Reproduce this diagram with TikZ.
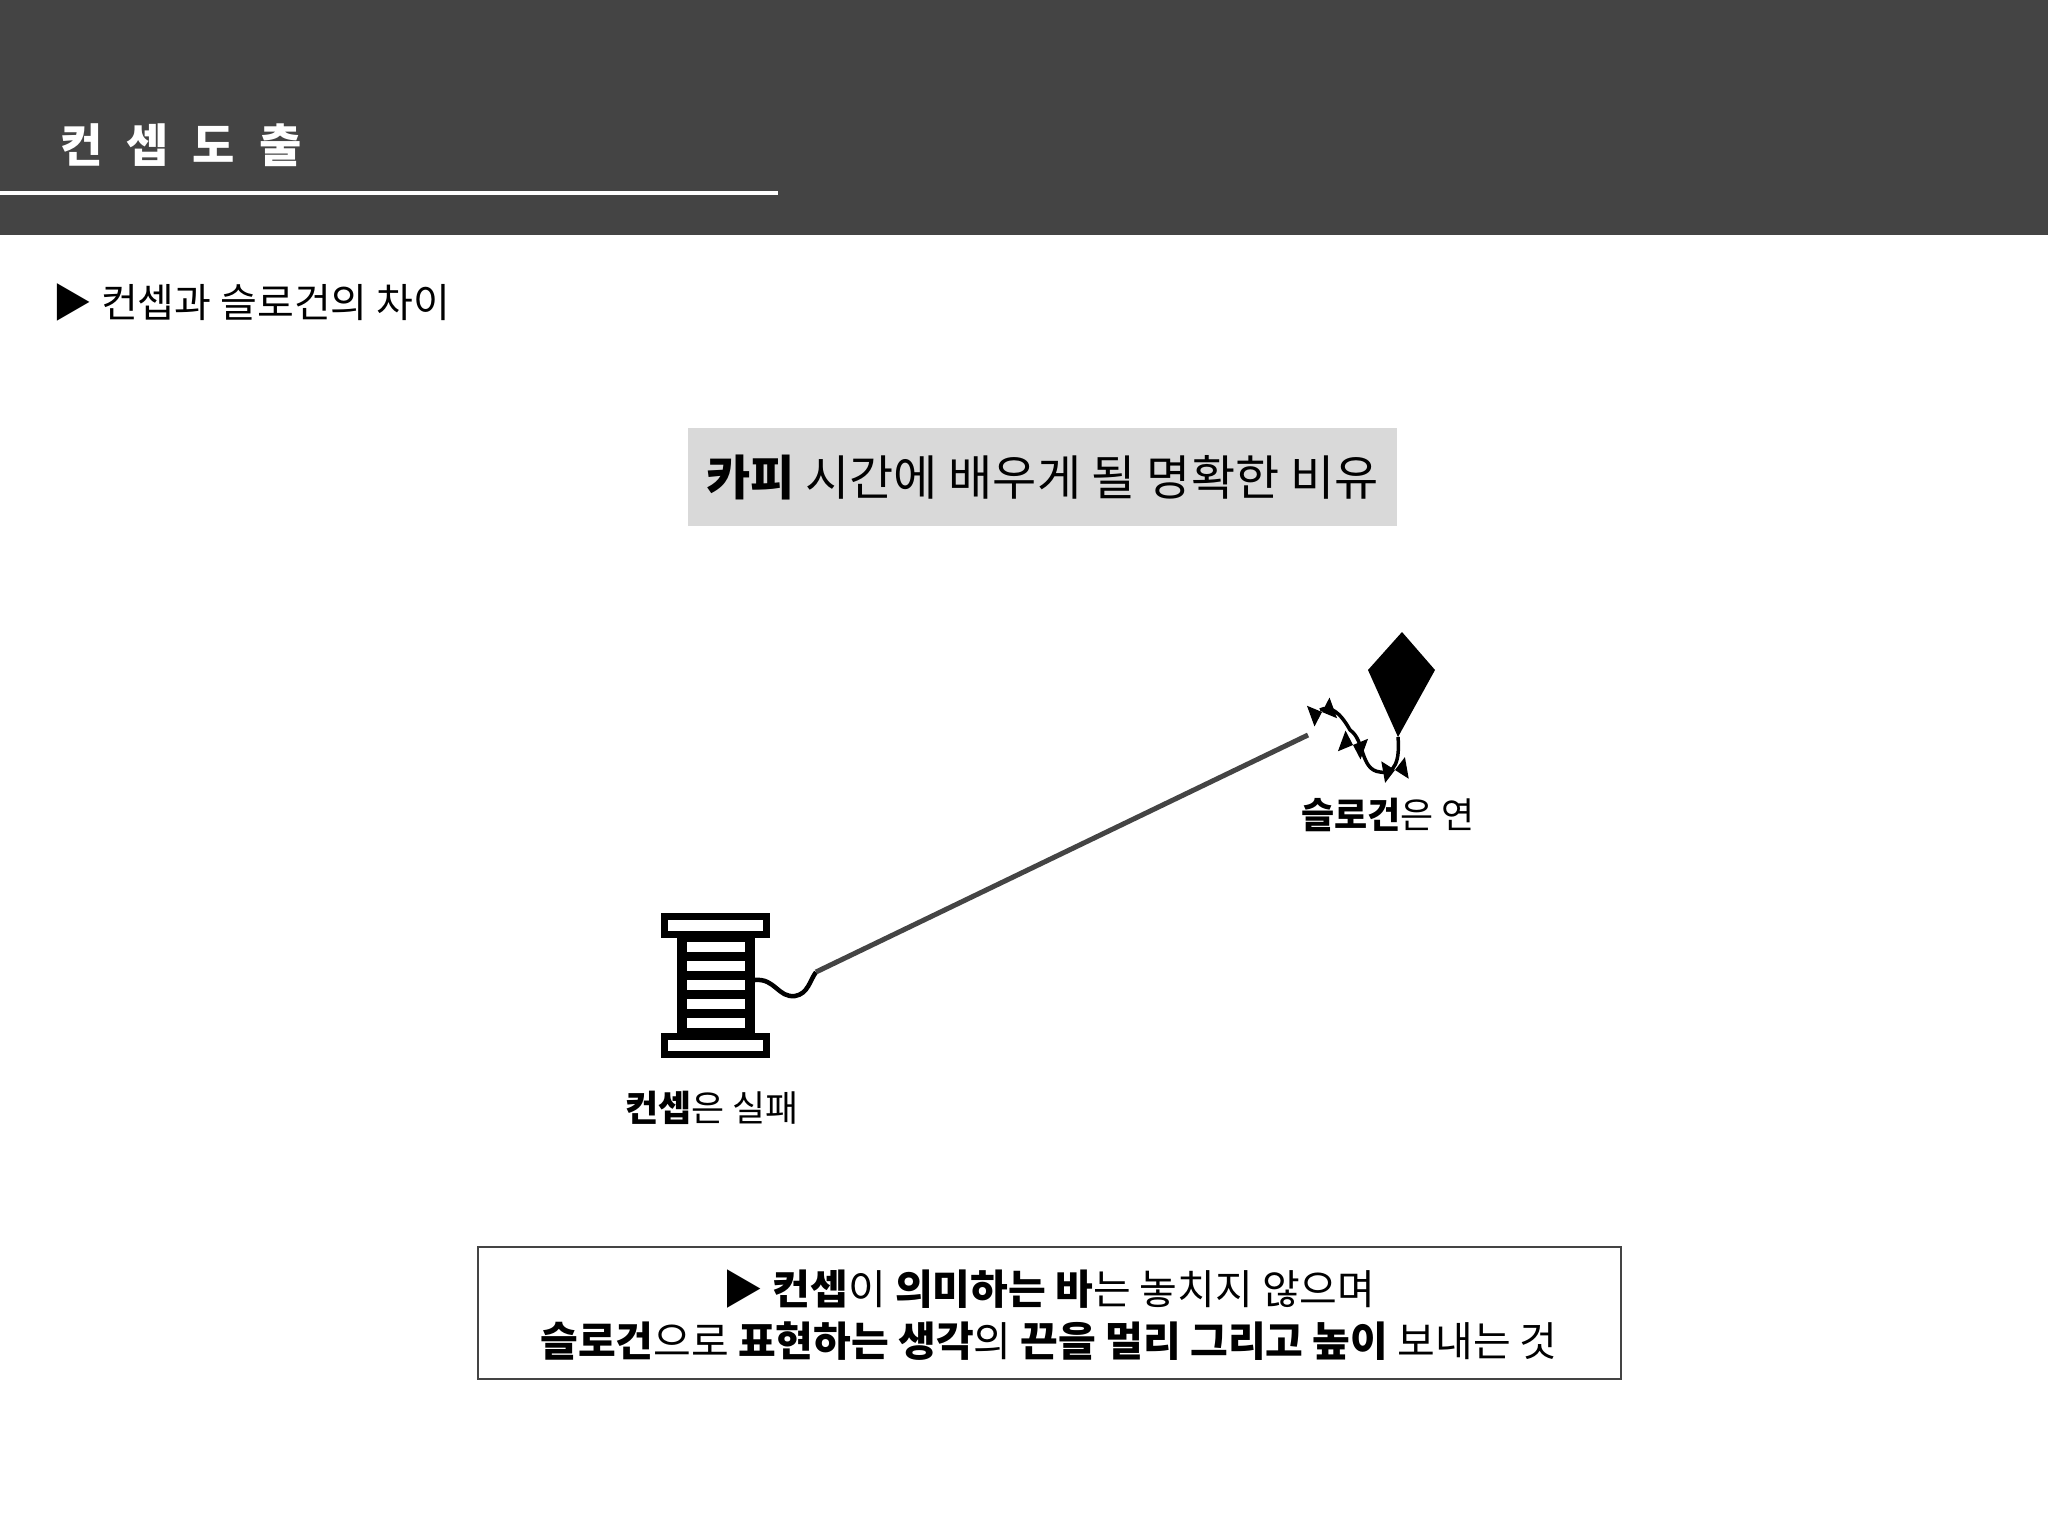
\documentclass[tikz,border=0pt]{standalone}
\usepackage{fontspec}
\setmainfont{Noto Sans CJK KR}
\newfontfamily\kr{Noto Sans CJK KR}
\definecolor{hdr}{HTML}{444444}
\definecolor{boxg}{HTML}{D9D9D9}
\begin{document}
\begin{tikzpicture}[x=1pt,y=-1pt,
  lbl/.style={inner sep=0pt,font=\kr\fontsize{36}{42}\selectfont},
  flange/.style={draw=black,line width=7pt,fill=white}]
\useasboundingbox (0,0) rectangle (2048,1536);
\fill[white] (0,0) rectangle (2048,1536);
% header
\fill[hdr] (0,0) rectangle (2048,235);
\draw[white,line width=4pt] (0,193) -- (778,193);
\node[anchor=west,inner sep=0pt,text=white,font=\kr\bfseries\fontsize{46}{50}\selectfont] (title) at (60,145) {컨\hspace{24pt}셉\hspace{24pt}도\hspace{24pt}출};
\node[anchor=west,inner sep=0pt,font=\kr\fontsize{40}{46}\selectfont] (sub) at (52,302) {▶ 컨셉과 슬로건의 차이};
% gray box
\node[fill=boxg,minimum width=709pt,minimum height=98pt,inner sep=0pt,font=\kr\fontsize{48}{54}\selectfont] (head) at (1042.5,477) {\textbf{카피} 시간에 배우게 될 명확한 비유};
% spool
\fill[black] (677,937) rectangle (755,1033);
\foreach \y in {947,966,985,1004,1023}{\fill[white] (687,\y-5) rectangle (745,\y+5);}
\draw[flange] (664,916) rectangle (766,934);
\draw[flange] (664,1036) rectangle (766,1054);
\coordinate (spoolend) at (816,972);
\draw[line width=4.5pt] (755,980) .. controls (775,978) and (778,998) .. (795,996) .. controls (808,994) and (810,980) .. (spoolend);
% kite
\fill (1402,632) -- (1435,670) -- (1398,737) -- (1368,670) -- cycle;
\coordinate (kiteend) at (1308,735);
\draw[line width=3.5pt] (1398,737) .. controls (1400,760) and (1395,775) .. (1380,772)
  .. controls (1360,770) and (1365,740) .. (1350,730)
  .. controls (1340,712) and (1330,705) .. (1320,710);
\foreach \px/\py/\a in {1322/712/20,1353/745/-20,1395/770/10}{
  \begin{scope}[shift={(\px,\py)},rotate=\a]
    \fill (0,0) -- (-12,-11) -- (-12,11) -- cycle;
    \fill (0,0) -- (12,-11) -- (12,11) -- cycle;
  \end{scope}}
% string
\draw[line width=5pt,color=hdr] (spoolend) -- (kiteend);
% labels
\node[lbl] (kitel) at (1388,815) {\textbf{슬로건}은 연};
\node[lbl] (spooll) at (712,1108) {\textbf{컨셉}은 실패};
% bottom box
\node[draw=hdr,line width=2pt,minimum width=1143pt,minimum height=132pt,inner sep=0pt] (bottom) at (1049.5,1313) {};
\node[inner sep=0pt,font=\kr\fontsize{41}{46}\selectfont] (b1) at (1049,1289) {▶ \textbf{컨셉}이 \textbf{의미하는 바}는 놓치지 않으며};
\node[inner sep=0pt,font=\kr\fontsize{41}{46}\selectfont] (b2) at (1049,1341) {\textbf{슬로건}으로 \textbf{표현하는 생각}의 \textbf{끈을 멀리 그리고 높이} 보내는 것};
\end{tikzpicture}
\end{document}
